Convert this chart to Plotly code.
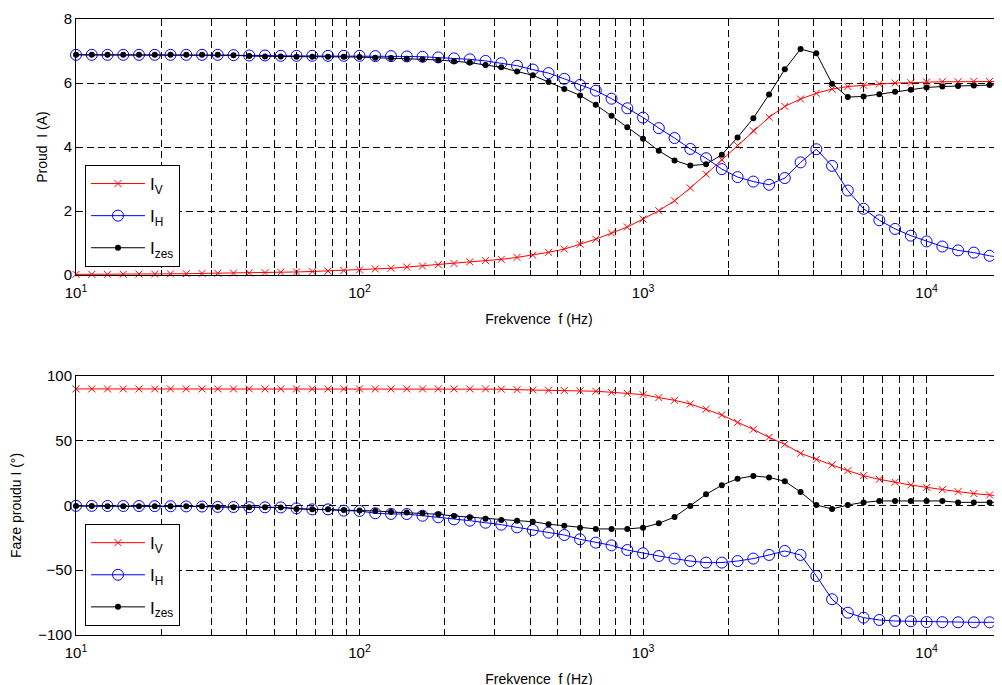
import plotly.graph_objects as go

# Frequencies (Hz), 18 points per decade
freq = [10, 11.365, 12.915, 14.678, 16.681, 18.957, 21.544, 24.484, 27.826, 31.623,
        35.938, 40.842, 46.416, 52.749, 59.948, 68.129, 77.426, 87.992,
        100, 113.65, 129.15, 146.78, 166.81, 189.57, 215.44, 244.84, 278.26, 316.23,
        359.38, 408.42, 464.16, 527.49, 599.48, 681.29, 774.26, 879.92,
        1000, 1136.5, 1291.5, 1467.8, 1668.1, 1895.7, 2154.4, 2448.4, 2782.6, 3162.3,
        3593.8, 4084.2, 4641.6, 5274.9, 5994.8, 6812.9, 7742.6, 8799.2,
        10000, 11365, 12915, 14678, 16681, 18957]

# Current magnitudes (A)
I_V = [0.02, 0.02, 0.02, 0.025, 0.03, 0.03, 0.035, 0.04, 0.05, 0.055,
       0.06, 0.065, 0.075, 0.085, 0.095, 0.11, 0.125, 0.14,
       0.16, 0.19, 0.21, 0.25, 0.28, 0.32, 0.36, 0.41, 0.45, 0.49,
       0.55, 0.62, 0.71, 0.81, 0.96, 1.12, 1.31, 1.50,
       1.75, 2.01, 2.32, 2.72, 3.15, 3.60, 4.05, 4.51, 4.93, 5.27,
       5.50, 5.68, 5.81, 5.89, 5.93, 5.97, 6.00, 6.01,
       6.03, 6.04, 6.04, 6.05, 6.05, 6.05]
I_H = [6.88, 6.88, 6.88, 6.88, 6.88, 6.88, 6.88, 6.88, 6.88, 6.88,
       6.87, 6.86, 6.86, 6.85, 6.85, 6.85, 6.85, 6.85,
       6.85, 6.84, 6.84, 6.83, 6.82, 6.80, 6.77, 6.74, 6.69, 6.62,
       6.54, 6.42, 6.31, 6.13, 5.94, 5.76, 5.51, 5.21,
       4.92, 4.59, 4.28, 3.94, 3.65, 3.31, 3.06, 2.92, 2.82, 3.03,
       3.52, 3.93, 3.41, 2.64, 2.07, 1.71, 1.44, 1.23,
       1.05, 0.89, 0.77, 0.70, 0.60, 0.53]
I_zes = [6.88, 6.88, 6.88, 6.88, 6.88, 6.88, 6.88, 6.88, 6.88, 6.88,
         6.87, 6.84, 6.83, 6.83, 6.82, 6.82, 6.82, 6.82,
         6.81, 6.79, 6.78, 6.76, 6.74, 6.72, 6.68, 6.64, 6.56, 6.49,
         6.36, 6.24, 6.03, 5.81, 5.61, 5.32, 4.98, 4.62,
         4.26, 3.88, 3.58, 3.42, 3.46, 3.76, 4.30, 4.90, 5.64, 6.43,
         7.06, 6.93, 5.98, 5.56, 5.58, 5.65, 5.73, 5.79,
         5.86, 5.89, 5.91, 5.92, 5.94, 5.95]

# Phases (deg)
P_V = [90, 90, 90, 90, 90, 90, 90, 90, 90, 90,
       90, 90, 90, 90, 90, 90, 90, 90,
       90, 90, 90, 90, 90, 90, 90, 90, 90, 89.8,
       89.4, 89.2, 89.0, 88.8, 88.5, 88.2, 87.4, 86.6,
       85.6, 83.3, 81.2, 78.4, 74.3, 69.9, 64.2, 58.8, 52.6, 47.2,
       40.3, 35.6, 31.3, 26.9, 23.0, 20.2, 17.9, 15.8,
       14.0, 12.2, 10.7, 9.2, 8.1, 7.0]
P_H = [-0.3, -0.3, -0.4, -0.4, -0.4, -0.5, -0.6, -0.7, -0.8, -1.1,
       -1.2, -1.3, -1.4, -1.5, -2.2, -3.0, -3.0, -4.0,
       -4.2, -6.0, -6.5, -6.6, -7.9, -9.1, -10.7, -11.7, -13.3, -14.8,
       -16.9, -18.9, -21.0, -22.8, -26.1, -28.7, -30.8, -34.4,
       -36.9, -39.0, -41.0, -42.9, -44.1, -44.1, -42.9, -41.0, -38.2, -35.1,
       -38.2, -54.4, -72.4, -82.8, -86.6, -88.4, -89.2, -89.4,
       -90.0, -90.1, -90.2, -90.2, -90.2, -90.2]
P_zes = [-0.4, -0.4, -0.5, -0.5, -0.5, -0.5, -0.6, -0.6, -0.6, -1.2,
         -1.3, -1.4, -1.4, -1.5, -2.7, -3.0, -3.0, -3.5,
         -3.8, -4.2, -5.0, -5.5, -6.0, -6.8, -8.1, -9.1, -10.2, -11.2,
         -11.7, -12.5, -14.5, -15.6, -17.1, -18.1, -18.1, -18.1,
         -17.1, -13.8, -8.9, -0.4, 8.6, 15.6, 20.7, 22.8, 21.7, 18.7,
         10.4, 0.4, -2.7, 0.4, 2.4, 3.5, 3.5, 3.5,
         3.5, 3.5, 2.4, 2.4, 2.4, 2.5]

x_tickvals = [m * 10 ** d for d in range(1, 5) for m in range(1, 10)]
x_ticktext = ["10<sup>%d</sup>" % d if m == 1 else "" for d in range(1, 5) for m in range(1, 10)]

FONT = "Liberation Sans, Arial, sans-serif"
RED, BLUE, BLACK = "#FF0000", "#0000FF", "#000000"

fig = go.Figure()

def add_set(yV, yH, yZ, xa, ya, leg):
    fig.add_trace(go.Scatter(x=freq, y=yV, mode="lines+markers", name="I<sub>V</sub>",
                             line=dict(color=RED, width=1), legendgroup=leg + "a",
                             marker=dict(symbol="x-thin", size=7, line=dict(color=RED, width=1)),
                             xaxis=xa, yaxis=ya, legend=leg, cliponaxis=False))
    fig.add_trace(go.Scatter(x=freq, y=yH, mode="lines+markers", name="I<sub>H</sub>",
                             line=dict(color=BLUE, width=1), legendgroup=leg + "b",
                             marker=dict(symbol="circle-open", size=11, color=BLUE, line=dict(color=BLUE, width=1)),
                             xaxis=xa, yaxis=ya, legend=leg, cliponaxis=False))
    fig.add_trace(go.Scatter(x=freq, y=yZ, mode="lines+markers", name="I<sub>zes</sub>",
                             line=dict(color=BLACK, width=1), legendgroup=leg + "c",
                             marker=dict(symbol="circle", size=6, color=BLACK),
                             xaxis=xa, yaxis=ya, legend=leg, cliponaxis=False))

add_set(I_V, I_H, I_zes, "x", "y", "legend")
add_set(P_V, P_H, P_zes, "x2", "y2", "legend2")

axis_common = dict(showline=True, linecolor="black", linewidth=1, mirror="allticks",
                   ticks="inside", ticklen=5, tickcolor="black", tickwidth=1,
                   showgrid=True, gridcolor="black", gridwidth=1, griddash="7px,4px",
                   zeroline=False, automargin=False,
                   tickfont=dict(family=FONT, size=15, color="black"))

xcommon = dict(type="log", range=[1, 4.266], tickmode="array", ticklabelstandoff=4,
               tickvals=x_tickvals, ticktext=x_ticktext, **axis_common)

leg_common = dict(xanchor="left", yanchor="top",
                  bgcolor="white", bordercolor="black", borderwidth=1,
                  font=dict(family=FONT, size=17, color="black"), itemwidth=54,
                  tracegroupgap=7)

# page body has an 8px default margin; margins below compensate for it
fig.update_layout(
    width=1002, height=685,
    margin=dict(l=68, r=8, t=11, b=58, pad=0),
    paper_bgcolor="white", plot_bgcolor="white",
    font=dict(family=FONT, size=14, color="black"),
    xaxis=dict(domain=[0, 1], anchor="y",
               title=dict(text="Frekvence\u00a0 f (Hz)", font=dict(size=14), standoff=14), **xcommon),
    yaxis=dict(domain=[0.5844, 1], anchor="x", range=[0, 8], tickmode="array",
               tickvals=[0, 2, 4, 6, 8],
               title=dict(text="Proud\u00a0 I (A)", font=dict(size=14), standoff=12), **axis_common),
    xaxis2=dict(domain=[0, 1], anchor="y2",
                title=dict(text="Frekvence\u00a0 f (Hz)", font=dict(size=14), standoff=14), **xcommon),
    yaxis2=dict(domain=[0, 0.4205], anchor="x2", range=[-100, 100], tickmode="array",
                tickvals=[-100, -50, 0, 50, 100],
                title=dict(text="Faze proudu I (°)", font=dict(size=14), standoff=13), **axis_common),
    legend=dict(x=0.0097, y=0.763, **leg_common),
    legend2=dict(x=0.0097, y=0.180, **leg_common),
)

fig.write_html("out.html")
